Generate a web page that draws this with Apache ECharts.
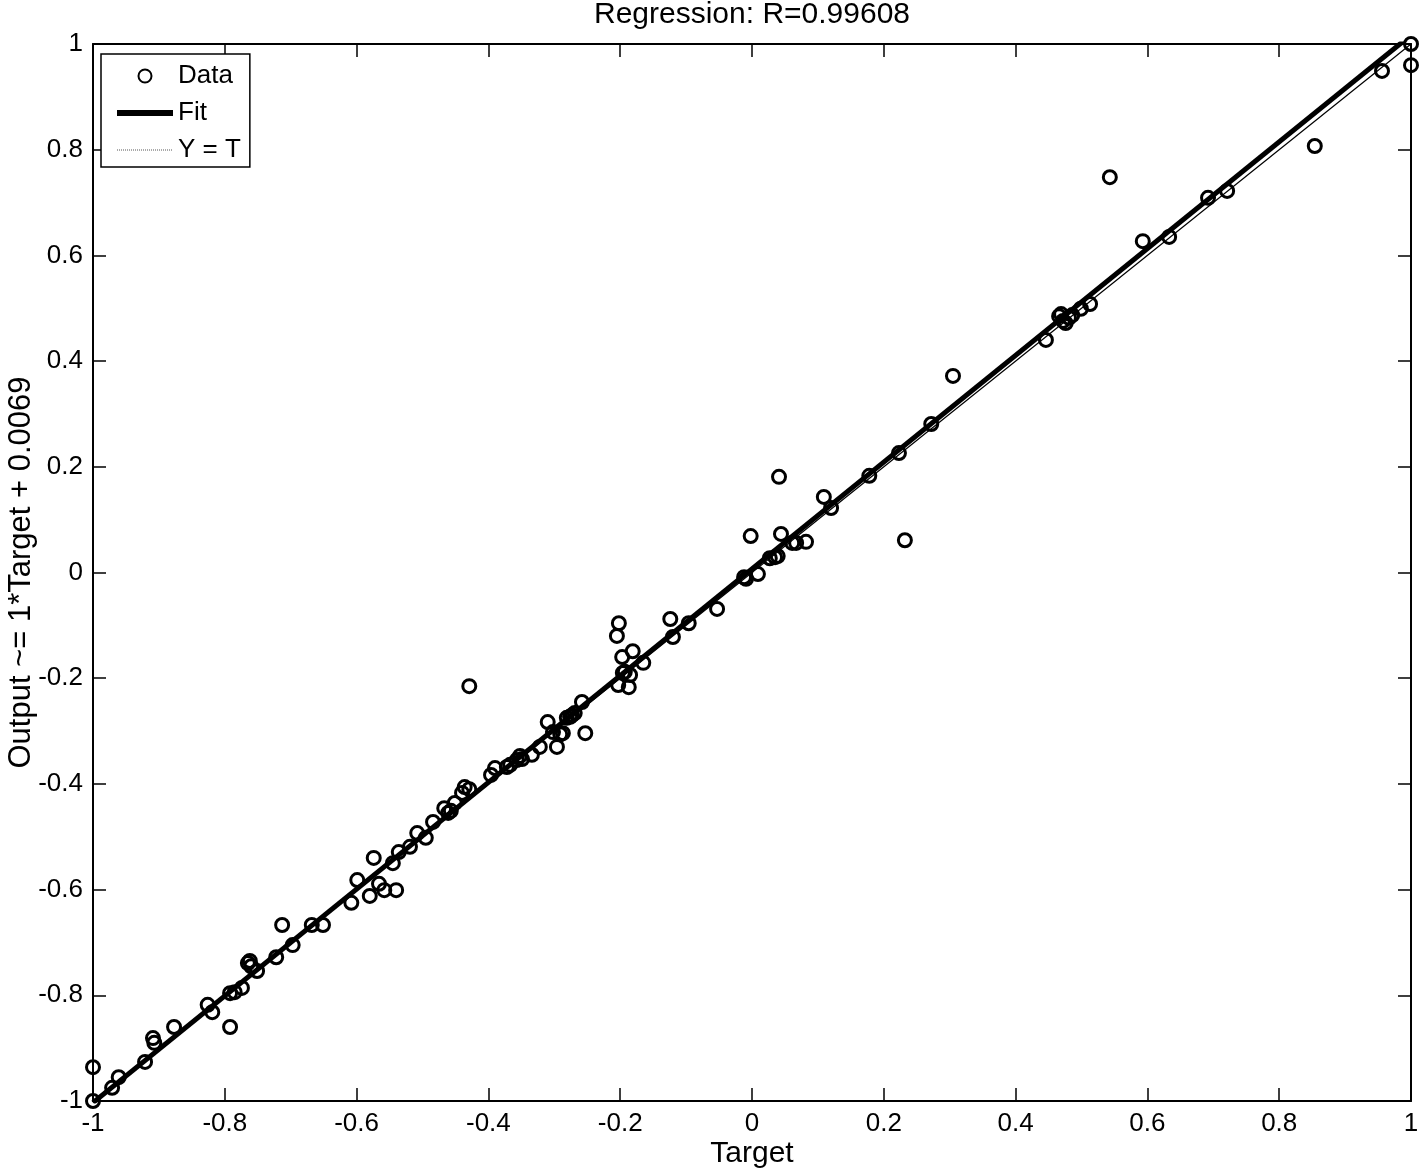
<!DOCTYPE html>
<html>
<head>
<meta charset="utf-8">
<script src="https://cdn.jsdelivr.net/npm/echarts@6/dist/echarts.min.js"></script>
<style>
html,body{margin:0;padding:0;background:#fff;}
#chart{width:1423px;height:1172px;}
</style>
</head>
<body>
<div id="chart"></div>
<script>
// ---- data ----
var target = [
 -1.000,-1.000,-0.971,-0.961,-0.921,-0.909,-0.907,-0.877,-0.826,-0.819,
 -0.792,-0.792,-0.785,-0.774,-0.765,-0.762,-0.760,-0.751,-0.722,-0.713,
 -0.697,-0.668,-0.651,-0.608,-0.599,-0.580,-0.574,-0.566,-0.558,-0.545,
 -0.540,-0.536,-0.519,-0.508,-0.495,-0.484,-0.467,-0.461,-0.457,-0.451,
 -0.440,-0.436,-0.429,-0.429,-0.396,-0.390,-0.372,-0.367,-0.357,-0.352,
 -0.349,-0.334,-0.322,-0.310,-0.302,-0.296,-0.291,-0.287,-0.281,-0.276,
 -0.273,-0.269,-0.258,-0.253,-0.205,-0.202,-0.197,-0.203,-0.196,-0.193,
 -0.187,-0.185,-0.181,-0.165,-0.124,-0.120,-0.096,-0.053,-0.012,-0.009,
 -0.002, 0.009, 0.027, 0.035, 0.039, 0.041, 0.044, 0.061, 0.067, 0.082,
  0.109, 0.120, 0.178, 0.223, 0.232, 0.272, 0.305, 0.446, 0.466, 0.469,
  0.472, 0.476, 0.481, 0.486, 0.499, 0.513, 0.543, 0.593, 0.633, 0.692,
  0.721, 0.854, 0.956, 1.000, 1.000
];
var output = [
 -1.000,-0.936,-0.975,-0.955,-0.926,-0.881,-0.890,-0.860,-0.818,-0.832,
 -0.860,-0.796,-0.794,-0.786,-0.739,-0.735,-0.745,-0.754,-0.728,-0.667,
 -0.705,-0.667,-0.667,-0.625,-0.582,-0.612,-0.540,-0.589,-0.601,-0.550,
 -0.601,-0.529,-0.519,-0.493,-0.502,-0.472,-0.446,-0.455,-0.451,-0.436,
 -0.417,-0.406,-0.410,-0.215,-0.383,-0.370,-0.368,-0.364,-0.355,-0.347,
 -0.353,-0.345,-0.330,-0.283,-0.302,-0.330,-0.306,-0.304,-0.275,-0.273,
 -0.270,-0.266,-0.245,-0.304,-0.120,-0.096,-0.160,-0.213,-0.190,-0.188,
 -0.217,-0.194,-0.149,-0.171,-0.088,-0.122,-0.096,-0.069,-0.009,-0.012,
  0.069,-0.003, 0.027, 0.029, 0.031, 0.181, 0.073, 0.056, 0.056, 0.058,
  0.143, 0.122, 0.183, 0.226, 0.061, 0.281, 0.372, 0.440, 0.485, 0.489,
  0.476, 0.472, 0.482, 0.487, 0.499, 0.508, 0.748, 0.627, 0.635, 0.709,
  0.722, 0.807, 0.949, 1.000, 0.960
];
var targetRange = [-1, 1];
var fitSlope = 1.01;
var fitIntercept = 0.0069;
var axisMin = -1, axisMax = 1, axisStep = 0.2;
var titleText = 'Regression: R=0.99608';
var xName = 'Target';
var yName = 'Output ~= 1*Target + 0.0069';
var seriesNames = ['Data', 'Fit', 'Y = T'];

// ---- build ----
var scatterData = target.map(function (t, i) { return [t, output[i]]; });
var fitData = targetRange.map(function (t) { return [t, fitSlope * t + fitIntercept]; });
var identData = targetRange.map(function (t) { return [t, t]; });

var FONT = '"Liberation Sans", Arial, Helvetica, sans-serif';
var chart = echarts.init(document.getElementById('chart'), null, {renderer: 'canvas'});

function axisCommon(showLabel) {
  return {
    type: 'value', min: axisMin, max: axisMax, interval: axisStep,
    splitLine: {show: false},
    nameMoveOverlap: false,
    axisLine: {show: true, onZero: false, lineStyle: {color: '#000', width: 2}},
    axisTick: {show: true, inside: true, length: 13, lineStyle: {color: '#000', width: 1.5}},
    axisLabel: {show: showLabel, color: '#000', fontFamily: FONT, fontSize: 26, margin: 10}
  };
}

var xBottom = axisCommon(true);
xBottom.position = 'bottom';
xBottom.name = xName; xBottom.nameLocation = 'middle'; xBottom.nameGap = 38;
xBottom.nameTextStyle = {color: '#000', fontFamily: FONT, fontSize: 30};
var xTop = axisCommon(false); xTop.position = 'top';
var yLeft = axisCommon(true);
yLeft.position = 'left';
yLeft.name = yName; yLeft.nameLocation = 'middle'; yLeft.nameGap = 56;
yLeft.nameTextStyle = {color: '#000', fontFamily: FONT, fontSize: 31};
var yRight = axisCommon(false); yRight.position = 'right';

chart.setOption({
  animation: false,
  backgroundColor: '#fff',
  title: {
    text: titleText, left: 752, top: 0, padding: 0, textAlign: 'center',
    textStyle: {color: '#000', fontFamily: FONT, fontSize: 30, fontWeight: 'normal'}
  },
  legend: {
    orient: 'vertical', left: 101, top: 54,
    padding: [9, 9, 4, 13], itemGap: 11, itemWidth: 56, itemHeight: 13,
    borderColor: '#000', borderWidth: 1.5, backgroundColor: '#fff',
    textStyle: {color: '#000', fontFamily: FONT, fontSize: 26, lineHeight: 25},
    selectedMode: false,
    data: [
      {name: seriesNames[0]},
      {name: seriesNames[1], itemStyle: {opacity: 0}, lineStyle: {width: 6, color: '#000'}},
      {name: seriesNames[2], itemStyle: {opacity: 0}, lineStyle: {width: 1, color: '#555', type: [1, 1]}}
    ]
  },
  grid: {left: 93, right: 12, top: 44, bottom: 71, containLabel: false, outerBoundsMode: 'none'},
  xAxis: [xBottom, xTop],
  yAxis: [yLeft, yRight],
  series: [
    {
      name: seriesNames[0], type: 'scatter', data: scatterData,
      symbol: 'circle', symbolSize: 13,
      itemStyle: {color: 'rgba(255,255,255,0)', borderColor: '#000', borderWidth: 3, opacity: 1},
      z: 2
    },
    {
      name: seriesNames[1], type: 'line', data: fitData, symbol: 'none',
      lineStyle: {color: '#000', width: 5}, clip: true, z: 3
    },
    {
      name: seriesNames[2], type: 'line', data: identData, symbol: 'none',
      lineStyle: {color: '#000', width: 1.2}, clip: true, z: 4
    }
  ]
});
</script>
</body>
</html>
